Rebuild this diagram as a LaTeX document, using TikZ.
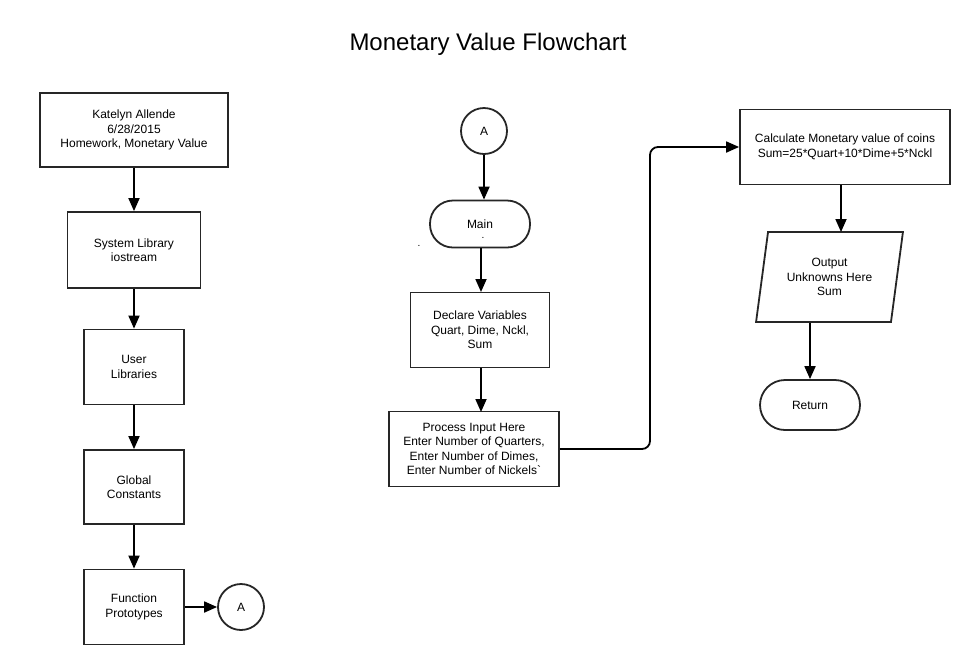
\documentclass[tikz,border=0pt]{standalone}
\usepackage{fontspec}
\setmainfont{Liberation Sans}
\usetikzlibrary{arrows.meta, shapes.geometric}

\tikzset{
  box/.style={draw=black!85, line width=1.8pt, fill=white, align=center, inner sep=0pt,
    font=\fontsize{12}{14.5}\selectfont},
  procbox/.style={box, rectangle},
  termbox/.style={box, rectangle, rounded corners=23pt},
  connbox/.style={box, circle, minimum size=46pt},
  iobox/.style={box, trapezium, trapezium left angle=77.5, trapezium right angle=102.5,
    trapezium stretches=true, minimum width=147pt, minimum height=90pt},
  speck/.style={inner sep=0pt, font=\fontsize{10}{10}\selectfont},
  arr/.style={line width=1.8pt, -{Triangle[length=13pt,width=11pt]}}
}

\begin{document}
\begin{tikzpicture}[x=1pt,y=-1pt]
  \useasboundingbox (0,0) rectangle (973,665);

  \node (title) at (488,44) {\fontsize{24}{28}\selectfont Monetary Value Flowchart};

  % left column
  \node[procbox, minimum width=188pt, minimum height=74pt] (author) at (134,130)
    {Katelyn Allende\\6/28/2015\\Homework, Monetary Value};
  \node[procbox, minimum width=133pt, minimum height=76pt] (syslib) at (134,250)
    {System Library\\iostream};
  \node[procbox, minimum width=100pt, minimum height=75pt] (userlib) at (134,367)
    {User\\Libraries};
  \node[procbox, minimum width=100pt, minimum height=74pt] (globals) at (134,487)
    {Global\\Constants};
  \node[procbox, minimum width=100pt, minimum height=75pt] (protos) at (134,607)
    {Function\\Prototypes};
  \node[connbox] (outA) at (241,607) {A};

  \draw[arr] (author) -- (syslib);
  \draw[arr] (syslib) -- (userlib);
  \draw[arr] (userlib) -- (globals);
  \draw[arr] (globals) -- (protos);
  \draw[arr] (protos) -- (outA);

  % middle column
  \node[connbox] (inA) at (484,131) {A};
  \node[termbox, minimum width=100pt, minimum height=47pt] (main) at (480,224) {Main};
  \node[procbox, minimum width=139pt, minimum height=75pt] (declare) at (480,330)
    {Declare Variables\\Quart, Dime, Nckl,\\Sum};
  \node[procbox, minimum width=170pt, minimum height=75pt] (process) at (474,449)
    {Process Input Here\\Enter Number of Quarters,\\Enter Number of Dimes,\\Enter Number of Nickels\textasciigrave};
  \node[speck] (dotL) at (419,246) {.};
  \node[speck] (dotR) at (483,238) {.};

  \draw[arr] (inA) -- (inA |- main.north);
  \draw[arr] (main.south -| 481,0) -- (481,292);
  \draw[arr] (declare.south -| 481,0) -- (481,412);

  % right column
  \node[procbox, minimum width=210pt, minimum height=75pt] (calc) at (845,147)
    {Calculate Monetary value of coins\\Sum=25*Quart+10*Dime+5*Nckl};
  \node[iobox] (output) at (829.5,277) {Output\\Unknowns Here\\Sum};
  \node[termbox, minimum width=100pt, minimum height=50pt, rounded corners=25pt] (ret) at (810,405) {Return};

  \coordinate (bend) at (650,0);
  \draw[arr, rounded corners=8pt] (process.east) -| (bend |- calc.west) -- (calc.west);
  \draw[arr] (calc.south -| 841,0) -- (841,232);
  \draw[arr] (ret.north |- output.south) -- (ret.north);
\end{tikzpicture}
\end{document}
